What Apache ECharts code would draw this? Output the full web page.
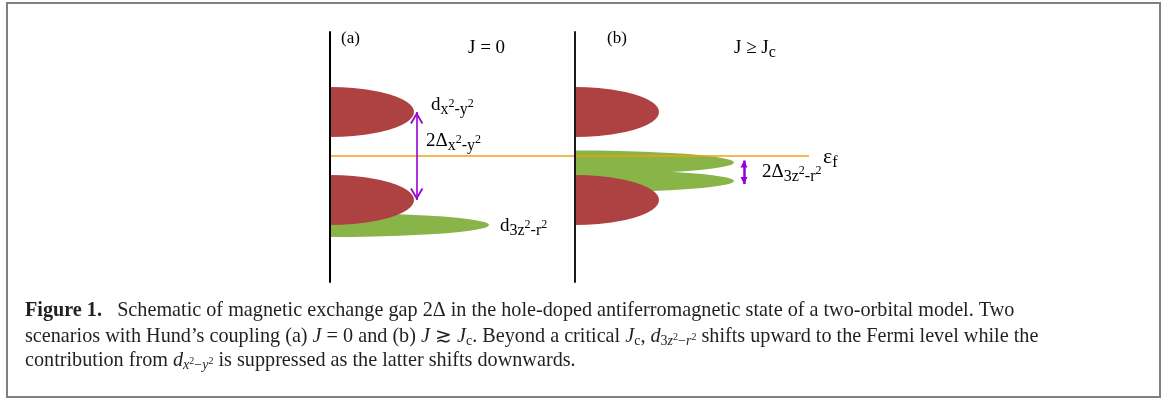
<!DOCTYPE html>
<html><head><meta charset="utf-8">
<script src="https://cdn.jsdelivr.net/npm/echarts@6/dist/echarts.min.js"></script>
<style>html,body{margin:0;padding:0;background:#fff}#c{width:1165px;height:401px}</style>
</head><body><div id="c"></div>
<script>
// ---- data (density of states profiles: [density, energy]; energy 0 = Fermi level) ----
const redUpperA = [[0,69],[11.9,68.75],[23.5,68],[36.6,66.5],[50.4,64],[60,61.5],[67.2,59],[72.7,56.5],[77,54],[80.1,51.5],[82.3,49],[83.6,46.5],[84,44],[83.6,41.5],[82.3,39],[80.1,36.5],[77,34],[72.7,31.5],[67.2,29],[60,26.5],[50.4,24],[36.6,21.5],[23.5,20],[11.9,19.25],[0,19]];
const redLowerA = [[0,-19],[11.9,-19.25],[23.5,-20],[36.6,-21.5],[50.4,-24],[60,-26.5],[67.2,-29],[72.7,-31.5],[77,-34],[80.1,-36.5],[82.3,-39],[83.6,-41.5],[84,-44],[83.6,-46.5],[82.3,-49],[80.1,-51.5],[77,-54],[72.7,-56.5],[67.2,-59],[60,-61.5],[50.4,-64],[36.6,-66.5],[23.5,-68],[11.9,-68.75],[0,-69]];
const greenA = [[0,-57],[22.4,-57.1],[44.5,-57.5],[69.3,-58.2],[95.4,-59.4],[113.5,-60.6],[127.2,-61.8],[137.7,-63],[145.7,-64.2],[151.7,-65.4],[155.8,-66.6],[158.2,-67.8],[159,-69],[158.2,-70.2],[155.8,-71.4],[151.7,-72.6],[145.7,-73.8],[137.7,-75],[127.2,-76.2],[113.5,-77.4],[95.4,-78.6],[69.3,-79.8],[44.5,-80.5],[22.4,-80.9],[0,-81]];
const redUpperB = [[0,69],[11.9,68.75],[23.5,68],[36.6,66.5],[50.4,64],[60,61.5],[67.2,59],[72.7,56.5],[77,54],[80.1,51.5],[82.3,49],[83.6,46.5],[84,44],[83.6,41.5],[82.3,39],[80.1,36.5],[77,34],[72.7,31.5],[67.2,29],[60,26.5],[50.4,24],[36.6,21.5],[23.5,20],[11.9,19.25],[0,19]];
const redLowerB = [[0,-19],[11.9,-19.25],[23.5,-20],[36.6,-21.5],[50.4,-24],[60,-26.5],[67.2,-29],[72.7,-31.5],[77,-34],[80.1,-36.5],[82.3,-39],[83.6,-41.5],[84,-44],[83.6,-46.5],[82.3,-49],[80.1,-51.5],[77,-54],[72.7,-56.5],[67.2,-59],[60,-61.5],[50.4,-64],[36.6,-66.5],[23.5,-68],[11.9,-68.75],[0,-69]];
const greenUpperB = [[0,5.5],[22.4,5.4],[44.5,5.0],[69.3,4.3],[95.4,3.1],[113.5,1.9],[127.2,0.7],[137.7,-0.5],[145.7,-1.7],[151.7,-2.9],[155.8,-4.1],[158.2,-5.3],[159,-6.5],[158.2,-7.7],[155.8,-8.9],[151.7,-10.1],[145.7,-11.3],[137.7,-12.5],[127.2,-13.7],[113.5,-14.9],[95.4,-16.1],[69.3,-17.3],[44.5,-18.0],[22.4,-18.4],[0,-18.5]];
const greenLowerB = [[0,-13.5],[22.4,-13.6],[44.5,-14.0],[69.3,-14.65],[95.4,-15.8],[113.5,-16.95],[127.2,-18.1],[137.7,-19.25],[145.7,-20.4],[151.7,-21.55],[155.8,-22.7],[158.2,-23.85],[159,-25],[158.2,-26.15],[155.8,-27.3],[151.7,-28.45],[145.7,-29.6],[137.7,-30.75],[127.2,-31.9],[113.5,-33.05],[95.4,-34.2],[69.3,-35.35],[44.5,-36.0],[22.4,-36.4],[0,-36.5]];
const fermiLevel = [[0,0],[479,0]];
const gapArrowA = [[86.7,44],[86.7,-44]];
const gapArrowB = [[414,-4.5],[414,-28]];

const RED = '#ae4142', GREEN = '#89b447', ORANGE = '#f0a010', PURPLE = '#9600d4';
const SERIF = 'Liberation Serif';

function band(name, gi, pts, color, z) {
  return {
    name: name, type: 'custom', xAxisIndex: gi, yAxisIndex: gi, data: pts, z: z, silent: true,
    animation: false, clip: false,
    renderItem: function (params, api) {
      if (params.dataIndex !== 0) return null;
      const points = pts.map(function (p) { return api.coord(p); });
      return { type: 'polygon', shape: { points: points }, style: { fill: color } };
    }
  };
}

const chevron = 'path://M50,0 L100,86 L88,94 L50,28 L12,94 L0,86 Z';
const triangle = 'path://M50,0 L100,100 L0,100 Z';

const figRich = {
  m: { fontSize: 19, fontFamily: SERIF, fill: '#000' },
  s: { fontSize: 16, fontFamily: SERIF, fill: '#000', padding: [10, 0, 0, 0] },
  p: { fontSize: 12, fontFamily: SERIF, fill: '#000', padding: [0, 0, 2, 0] },
  e: { fontSize: 22, fontFamily: SERIF, fill: '#000' },
  f: { fontSize: 16, fontFamily: SERIF, fill: '#000', padding: [12, 0, 0, 0] }
};
function ftext(x, y, text, size) {
  return { type: 'text', x: x, y: y, silent: true,
    style: { text: text, fontSize: size || 19, fontFamily: SERIF, fill: '#000', align: 'left', verticalAlign: 'middle', rich: figRich } };
}

const CAP = 20.2;
const capRich = {
  b: { fontSize: CAP, fontFamily: SERIF, fontWeight: 'bold', fill: '#231f20' },
  i: { fontSize: CAP, fontFamily: SERIF, fontStyle: 'italic', fill: '#231f20' },
  s: { fontSize: 14, fontFamily: SERIF, fill: '#231f20', padding: [9, 0, 0, 0] },
  is: { fontSize: 14, fontFamily: SERIF, fontStyle: 'italic', fill: '#231f20', padding: [9, 0, 0, 0] },
  sp: { fontSize: 10, fontFamily: SERIF, fill: '#231f20', padding: [0, 0, 0, 0] }
};
function ctext(y, text) {
  return { type: 'text', x: 25, y: y, silent: true,
    style: { text: text, fontSize: CAP, fontFamily: SERIF, fill: '#231f20', align: 'left', verticalAlign: 'middle', rich: capRich } };
}

const chart = echarts.init(document.getElementById('c'));
chart.setOption({
  animation: false,
  backgroundColor: '#fff',
  grid: [
    { left: 330, top: 32, width: 480, height: 250 },
    { left: 575, top: 32, width: 240, height: 250 }
  ],
  xAxis: [
    { gridIndex: 0, type: 'value', min: 0, max: 480, show: false },
    { gridIndex: 1, type: 'value', min: 0, max: 240, show: false }
  ],
  yAxis: [
    { gridIndex: 0, type: 'value', min: -126, max: 124, z: 5,
      axisLine: { show: true, onZero: false, lineStyle: { color: '#000', width: 2 } },
      axisTick: { show: false }, axisLabel: { show: false }, splitLine: { show: false } },
    { gridIndex: 1, type: 'value', min: -126, max: 124, z: 5,
      axisLine: { show: true, onZero: false, lineStyle: { color: '#1a1a1a', width: 2 } },
      axisTick: { show: false }, axisLabel: { show: false }, splitLine: { show: false } }
  ],
  series: [
    band('d3z2-r2 (a)', 0, greenA, GREEN, 1),
    band('dx2-y2 upper (a)', 0, redUpperA, RED, 2),
    band('dx2-y2 lower (a)', 0, redLowerA, RED, 2),
    band('d3z2-r2 upper (b)', 1, greenUpperB, GREEN, 1),
    band('d3z2-r2 lower (b)', 1, greenLowerB, GREEN, 1),
    band('dx2-y2 upper (b)', 1, redUpperB, RED, 2),
    band('dx2-y2 lower (b)', 1, redLowerB, RED, 2),
    {
      name: 'Fermi level', type: 'line', xAxisIndex: 0, yAxisIndex: 0, data: fermiLevel, z: 3,
      symbol: 'none', silent: true, lineStyle: { color: ORANGE, width: 1.3 },
      markLine: {
        silent: true, animation: false, label: { show: false },
        lineStyle: { color: PURPLE, type: 'solid' },
        data: [
          [
            { coord: gapArrowA[0], symbol: chevron, symbolSize: [13, 12], symbolOffset: [0, '50%'], lineStyle: { width: 1.6, color: PURPLE } },
            { coord: gapArrowA[1], symbol: chevron, symbolSize: [13, 12], symbolOffset: [0, '50%'] }
          ],
          [
            { coord: gapArrowB[0], symbol: triangle, symbolSize: [7, 7], symbolOffset: [0, '50%'], lineStyle: { width: 2.5, color: PURPLE } },
            { coord: gapArrowB[1], symbol: triangle, symbolSize: [7, 7], symbolOffset: [0, '50%'] }
          ]
        ]
      }
    }
  ],
  graphic: [
    { type: 'rect', silent: true, shape: { x: 7, y: 3, width: 1153, height: 394 },
      style: { fill: 'none', stroke: '#808080', lineWidth: 2 } },
    ftext(341, 39, '(a)', 17),
    ftext(468, 48, 'J = 0', 19),
    ftext(607, 39, '(b)', 17),
    ftext(734, 48, '{m|J ≥ J}{s|c}', 19),
    ftext(431, 105, '{m|d}{s|x}{p|2}{s|-y}{p|2}'),
    ftext(426, 141, '{m|2Δ}{s|x}{p|2}{s|-y}{p|2}'),
    ftext(500, 226, '{m|d}{s|3z}{p|2}{s|-r}{p|2}'),
    ftext(823, 157, '{e|ε}{f|f}'),
    ftext(762, 172, '{m|2Δ}{s|3z}{p|2}{s|-r}{p|2}'),
    ctext(311, '{b|Figure 1.}\u2002 Schematic of magnetic exchange gap 2Δ in the hole-doped antiferromagnetic state of a two-orbital model. Two'),
    ctext(337, 'scenarios with Hund’s coupling (a) {i|J} = 0 and (b) {i|J} ≳ {i|J}{s|c}. Beyond a critical {i|J}{s|c}, {i|d}{s|3}{is|z}{sp|2}{s|−}{is|r}{sp|2} shifts upward to the Fermi level while the'),
    ctext(361, 'contribution from {i|d}{is|x}{sp|2}{s|−}{is|y}{sp|2} is suppressed as the latter shifts downwards.')
  ]
});
</script></body></html>
